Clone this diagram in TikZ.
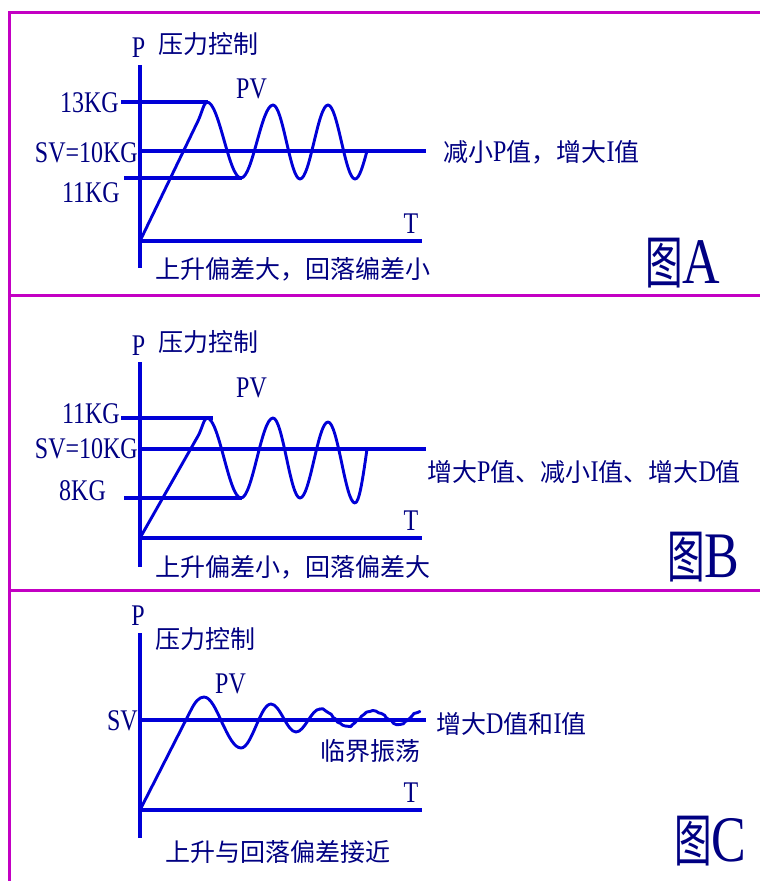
\documentclass[tikz,border=0pt]{standalone}
\usepackage{fontspec}
\setmainfont[FakeStretch=0.8]{Liberation Serif}
\newfontfamily\cjk{Noto Sans CJK SC}
\newfontfamily\cjkbig[FakeStretch=0.66]{Noto Sans CJK SC}
\usetikzlibrary{decorations.pathmorphing}
\definecolor{mag}{RGB}{195,0,195}
\definecolor{lineblue}{RGB}{0,0,215}
\definecolor{navy}{RGB}{0,0,130}
\newcommand{\cj}[1]{{\cjk\fontsize{25}{28}\selectfont #1}}
\newcommand{\bigfig}[1]{{\cjkbig\fontsize{57}{60}\selectfont 图}{\fontsize{65}{70}\selectfont #1}}
\tikzset{
  txt/.style={inner sep=0pt, text=navy, font=\fontsize{30}{32}\selectfont},
  axisline/.style={draw=lineblue, line width=3.3pt},
  curve/.style={draw=lineblue, line width=2.9pt, line join=round, line cap=round},
  border/.style={draw=mag, line width=3pt},
}
\begin{document}
\begin{tikzpicture}[x=1pt,y=-1pt]
\useasboundingbox (0,0) rectangle (760,881);
\fill[white] (0,0) rectangle (760,881);
% borders
\draw[border] (760,12) -- (9,12) -- (9,881);
\draw[border] (9,295) -- (760,295);
\draw[border] (9,590) -- (760,590);

% ================= Panel A =================
\draw[axisline] (140,65) -- (140,268);
\draw[axisline] (140,241) -- (422,241);
\draw[axisline] (121,102) -- (208,102);
\draw[axisline] (138,151) -- (426,151);
\draw[axisline] (124,178) -- (242,178);
\draw[curve] (140,241) -- (198,121) .. controls (202,112.5) and (204,102) .. (207,102)
  cos (224,140) sin (241,178) cos (257,141.5) sin (273,105)
  cos (286.5,142) sin (300,179) cos (314,142) sin (328,105)
  cos (341.5,142) sin (355,179) cos (367,151);
\node[txt, anchor=base] (aP) at (138.5,57) {P};
\node[txt, anchor=base west] (aTitle) at (158,53) {\cj{压力控制}};
\node[txt, anchor=base west] (aPV) at (236,98) {PV};
\node[txt, anchor=base east] (a13) at (119,112) {13KG};
\node[txt, anchor=base east] (aSV) at (138,162) {SV=10KG};
\node[txt, anchor=base east] (a11) at (120,202) {11KG};
\node[txt, anchor=base] (aT) at (411,233) {T};
\node[txt, anchor=base west] (aBottom) at (155,278) {\cj{上升偏差大，回落编差小}};
\node[txt, anchor=base west] (aRight) at (443,161) {\cj{减小}P\cj{值，增大}I\cj{值}};
\node[txt, anchor=base west] (aFig) at (645,283) {\bigfig{A}};

% ================= Panel B =================
\draw[axisline] (140,362) -- (140,567);
\draw[axisline] (140,538) -- (422,538);
\draw[axisline] (121,418) -- (213,418);
\draw[axisline] (138,449) -- (426,449);
\draw[axisline] (124,498) -- (242,498);
\draw[curve] (140,538) -- (198,436) .. controls (202,429) and (204,418) .. (207,418)
  cos (224,458) sin (241,498) cos (257,458) sin (273,418)
  cos (286.5,458) sin (300,498) cos (314,460) sin (328,422)
  cos (341.5,462) sin (355,503) cos (367,449);
\node[txt, anchor=base] (bP) at (138.5,355) {P};
\node[txt, anchor=base west] (bTitle) at (158,351) {\cj{压力控制}};
\node[txt, anchor=base west] (bPV) at (236,397) {PV};
\node[txt, anchor=base east] (b11) at (120,423) {11KG};
\node[txt, anchor=base east] (bSV) at (138,458) {SV=10KG};
\node[txt, anchor=base west] (b8) at (59,500) {8KG};
\node[txt, anchor=base] (bT) at (411,530) {T};
\node[txt, anchor=base west] (bRight) at (427,481) {\cj{增大}P\cj{值、减小}I\cj{值、增大}D\cj{值}};
\node[txt, anchor=base west] (bBottom) at (155,576) {\cj{上升偏差小，回落偏差大}};
\node[txt, anchor=base west] (bFig) at (667,577) {\bigfig{B}};

% ================= Panel C =================
\draw[axisline] (140,633) -- (140,838);
\draw[axisline] (140,810) -- (422,810);
\draw[axisline] (140,720) -- (426,720);
\draw[curve] (140,810) -- (191,710) .. controls (195,702) and (199,697) .. (204,697)
  cos (222,722.5) sin (241,748) cos (256,726) sin (271,704)
  cos (283.5,718) sin (296,732) cos (308,720.5) sin (320,709);
\pgfmathsetseed{7}
\draw[curve, decorate, decoration={random steps, segment length=3pt, amplitude=0.9pt}]
  (320,709) cos (333,717.5) sin (347,726) cos (360,718.5) sin (373,711)
  cos (386,717.5) sin (400,724) cos (410,718) sin (420,712);
\node[txt, anchor=base] (cP) at (138,625) {P};
\node[txt, anchor=base west] (cTitle) at (155,648) {\cj{压力控制}};
\node[txt, anchor=base west] (cPV) at (215,693) {PV};
\node[txt, anchor=base east] (cSV) at (138,730) {SV};
\node[txt, anchor=base west] (cRight) at (436,733) {\cj{增大}D\cj{值和}I\cj{值}};
\node[txt, anchor=base west] (cOsc) at (320,760) {\cj{临界振荡}};
\node[txt, anchor=base] (cT) at (411,802) {T};
\node[txt, anchor=base west] (cBottom) at (165,861) {\cj{上升与回落偏差接近}};
\node[txt, anchor=base west] (cFig) at (674,861) {\bigfig{C}};
\end{tikzpicture}
\end{document}
